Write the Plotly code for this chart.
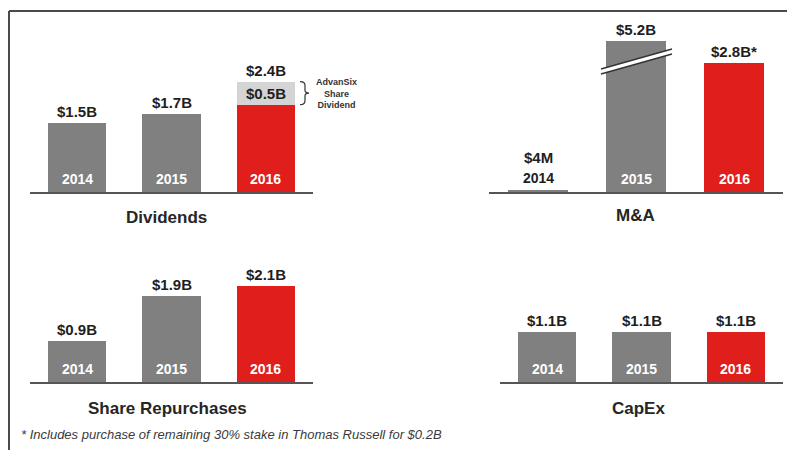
import plotly.graph_objects as go
from plotly.subplots import make_subplots

# page body has an 8px margin, so the figure is drawn 8px in from the corner
OFF = 8
W, H = 795 - OFF, 450 - OFF

# ── data ──────────────────────────────────────────────────────────────
years = ["2014", "2015", "2016"]

dividends = [1.5, 1.7, 1.9]
dividends_advansix = [0.0, 0.0, 0.5]
dividends_labels = ["$1.5B", "$1.7B", "$2.4B"]
advansix_label = "$0.5B"

ma = [0.004, 5.2, 2.8]
ma_labels = ["$4M", "$5.2B", "$2.8B*"]

repurchases = [0.9, 1.9, 2.1]
repurchases_labels = ["$0.9B", "$1.9B", "$2.1B"]

capex = [1.1, 1.1, 1.1]
capex_labels = ["$1.1B", "$1.1B", "$1.1B"]

footnote = "* Includes purchase of remaining 30% stake in Thomas Russell for $0.2B"

# ── style ─────────────────────────────────────────────────────────────
GREY = "#808080"
RED = "#e01e1b"
LIGHT = "#d4d4d4"
INK = "#1e1e1e"
FRAME = "#4a4a4a"
FONT = "Liberation Sans, Arial, sans-serif"
bar_colors = [GREY, GREY, RED]


def fx(x):
    # screen pixel -> paper fraction
    return (x - OFF) / W


def fy(y):
    return 1 - (y - OFF) / H


# panel boxes in screen pixels: left, right, top, baseline, px per $B
panels = [
    dict(row=1, col=1, values=dividends, labels=dividends_labels, title="Dividends",
         box=(30, 313, 30, 192, 46.0), title_xy=(166, 217)),
    dict(row=1, col=2, values=ma, labels=ma_labels, title="M&A",
         box=(489, 783, 41, 192, 46.0), title_xy=(635, 215)),
    dict(row=2, col=1, values=repurchases, labels=repurchases_labels, title="Share Repurchases",
         box=(30, 313, 240, 382, 45.5), title_xy=(167, 408)),
    dict(row=2, col=2, values=capex, labels=capex_labels, title="CapEx",
         box=(500, 783, 240, 382, 45.5), title_xy=(638, 408)),
]

fig = make_subplots(rows=2, cols=2)

for p in panels:
    r, c = p["row"], p["col"]
    left, right, top, base, scale = p["box"]
    ymax = (base - top) / scale
    vals = p["values"]

    line_w = [3 if v < 0.05 else 0 for v in vals]
    fig.add_trace(
        go.Bar(
            x=years, y=vals, width=0.62,
            marker=dict(color=bar_colors, line=dict(color=bar_colors, width=line_w)),
            showlegend=False, hoverinfo="skip",
        ),
        row=r, col=c,
    )
    if p["title"] == "Dividends":
        fig.add_trace(
            go.Bar(
                x=years, y=dividends_advansix, width=0.62,
                marker=dict(color=LIGHT, line=dict(width=0)),
                showlegend=False, hoverinfo="skip",
            ),
            row=r, col=c,
        )
        totals = [a + b for a, b in zip(dividends, dividends_advansix)]
    else:
        totals = vals

    fig.update_xaxes(
        type="category", domain=[fx(left), fx(right)], range=[-0.5, 2.5],
        showline=True, linecolor="#555555", linewidth=2,
        showticklabels=False, showgrid=False, zeroline=False, ticks="",
        row=r, col=c,
    )
    fig.update_yaxes(
        domain=[fy(base), fy(top)], range=[0, ymax],
        showticklabels=False, showgrid=False, zeroline=False, ticks="",
        row=r, col=c,
    )

    for i, (yr, v, lab) in enumerate(zip(years, totals, p["labels"])):
        y_top = min(v, ymax)
        if v < 0.3:
            # sliver bar: year sits above it in dark text
            fig.add_annotation(
                x=i, y=y_top, yanchor="bottom", yshift=4, showarrow=False,
                text=f"<b>{yr}</b>", font=dict(size=14, color=INK, family=FONT),
                row=r, col=c,
            )
            shift = 24
        else:
            fig.add_annotation(
                x=i, y=0, yanchor="bottom", yshift=3, showarrow=False,
                text=f"<b>{yr}</b>", font=dict(size=14, color="white", family=FONT),
                row=r, col=c,
            )
            shift = 1
        fig.add_annotation(
            x=i, y=y_top, yanchor="bottom", yshift=shift, showarrow=False,
            text=f"<b>{lab}</b>", font=dict(size=15, color=INK, family=FONT),
            row=r, col=c,
        )

    tx, ty = p["title_xy"]
    fig.add_annotation(
        x=fx(tx), y=fy(ty), xref="paper", yref="paper", xanchor="center", yanchor="middle",
        showarrow=False,
        text=f"<b>{p['title']}</b>", font=dict(size=17, color="#262626", family=FONT),
    )

# AdvanSix segment label and bracket
low, high = dividends[2], dividends[2] + dividends_advansix[2]
mid = (low + high) / 2
fig.add_annotation(
    x=2, y=mid, showarrow=False,
    text=f"<b>{advansix_label}</b>", font=dict(size=15, color=INK, family=FONT),
    row=1, col=1,
)
fig.add_shape(
    type="path", xref="paper", yref="y",
    path=(f"M {fx(300)},{high} Q {fx(305)},{high} {fx(305)},{high - 0.08} "
          f"L {fx(305)},{mid + 0.06} Q {fx(305)},{mid} {fx(309)},{mid} "
          f"Q {fx(305)},{mid} {fx(305)},{mid - 0.06} "
          f"L {fx(305)},{low + 0.08} Q {fx(305)},{low} {fx(300)},{low}"),
    line=dict(color="#333333", width=1.2),
)
fig.add_annotation(
    x=fx(336), y=mid, xref="paper", yref="y", xanchor="center", showarrow=False,
    text="<b>AdvanSix<br>Share<br>Dividend</b>", align="center",
    font=dict(size=9, color="#333333", family=FONT),
)

# axis break on the 2015 M&A bar
ub = [(601, 69), (672, 49)]
lb = [(601, 74), (672, 54)]
fig.add_shape(
    type="path", xref="paper", yref="paper",
    path=(f"M {fx(ub[0][0])},{fy(ub[0][1])} L {fx(ub[1][0])},{fy(ub[1][1])} "
          f"L {fx(lb[1][0])},{fy(lb[1][1])} L {fx(lb[0][0])},{fy(lb[0][1])} Z"),
    fillcolor="white", line=dict(width=0),
)
for seg in (ub, lb):
    fig.add_shape(
        type="line", xref="paper", yref="paper",
        x0=fx(seg[0][0]), y0=fy(seg[0][1]), x1=fx(seg[1][0]), y1=fy(seg[1][1]),
        line=dict(color="#333333", width=1.3),
    )

# frame
fig.add_shape(type="line", xref="paper", yref="paper",
              x0=fx(9), y0=fy(11), x1=1, y1=fy(11), line=dict(color=FRAME, width=2))
fig.add_shape(type="line", xref="paper", yref="paper",
              x0=fx(9), y0=fy(11), x1=fx(9), y1=0, line=dict(color=FRAME, width=2))

fig.add_annotation(
    x=fx(19), y=fy(434), xref="paper", yref="paper", xanchor="left", yanchor="middle",
    showarrow=False,
    text=f"<i>{footnote}</i>", font=dict(size=13, color="#3a3a3a", family=FONT),
)

fig.update_layout(
    width=W, height=H,
    margin=dict(l=0, r=0, t=0, b=0),
    paper_bgcolor="white", plot_bgcolor="white",
    barmode="stack", bargap=0,
    font=dict(family=FONT, color=INK),
)

fig.write_html("out.html")
